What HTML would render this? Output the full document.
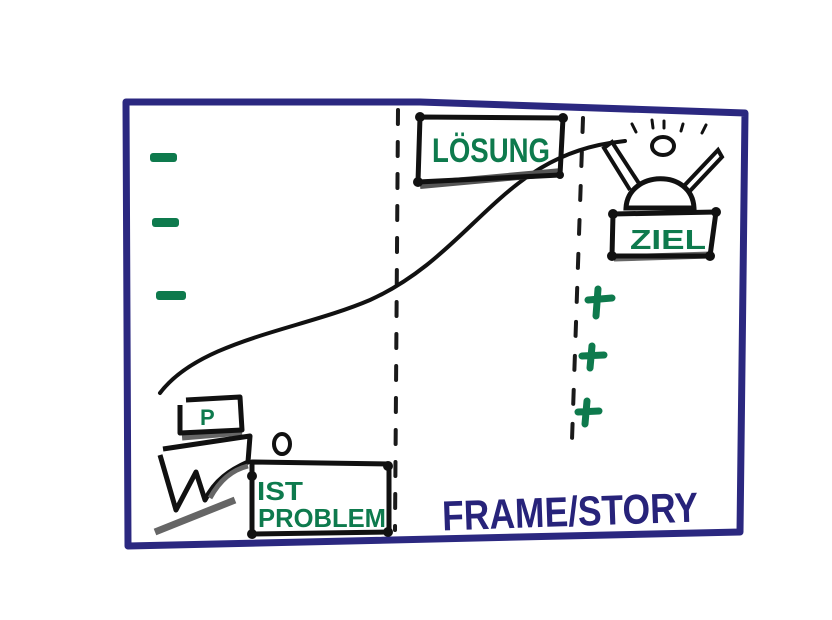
<!DOCTYPE html>
<html><head><meta charset="utf-8"><style>
html,body{margin:0;padding:0;background:#fff;width:832px;height:620px;overflow:hidden}
svg{display:block}
text{font-family:"Liberation Sans",sans-serif;font-weight:bold}
</style></head><body>
<svg width="832" height="620" viewBox="0 0 832 620" xmlns="http://www.w3.org/2000/svg">
<rect width="832" height="620" fill="#fff"/>
<!-- frame -->
<path d="M126 102 L420 102 L745 113 L740 532 L128 546 Z" fill="none" stroke="#2b2880" stroke-width="7" stroke-linejoin="round"/>
<!-- dashed lines -->
<path d="M398 110 L395 530" stroke="#1a1a1a" stroke-width="4" stroke-dasharray="14 18" stroke-linecap="round"/>
<path d="M583 118 L572 440" stroke="#1a1a1a" stroke-width="4" stroke-dasharray="14 20" stroke-linecap="round"/>
<!-- minus -->
<g fill="#0e7a4d">
<rect x="150" y="153" width="27" height="9" rx="3"/>
<rect x="152" y="218" width="27" height="9" rx="3"/>
<rect x="156" y="291" width="30" height="9" rx="3"/>
</g>
<!-- plus -->
<g stroke="#0e7a4d" stroke-width="7" stroke-linecap="round">
<path d="M588 300 L612 298 M598 289 L596 316"/>
<path d="M582 356 L604 355 M592 346 L590 368"/>
<path d="M578 412 L599 411 M587 401 L585 424"/>
</g>
<!-- curve -->
<path d="M160 393 C 200 340, 300 330, 370 300 C 470 255, 500 160, 610 143 L625 141" fill="none" stroke="#111" stroke-width="4" stroke-linecap="round"/>
<!-- LOSUNG box -->
<path d="M420 185 L562 172" stroke="#555" stroke-width="8"/>
<path d="M420 117 L563 118 L560 175 L418 182 Z" fill="none" stroke="#111" stroke-width="5" stroke-linejoin="round"/>
<g fill="#111"><circle cx="420" cy="117" r="5"/><circle cx="563" cy="118" r="5"/><circle cx="418" cy="182" r="5"/><circle cx="560" cy="175" r="4"/></g>
<text x="432" y="162" font-size="34" fill="#0e7a4d" textLength="118" lengthAdjust="spacingAndGlyphs">LÖSUNG</text>
<!-- person -->
<ellipse cx="663" cy="146" rx="11" ry="9" fill="none" stroke="#111" stroke-width="4"/>
<path d="M626 208 C 628 170, 692 168, 694 208 Z" fill="#fff" stroke="#111" stroke-width="5"/>
<path d="M640 185 L612 142 L604 148 L630 190" fill="none" stroke="#111" stroke-width="4"/>
<path d="M682 188 L718 150 L722 157 L689 192" fill="none" stroke="#111" stroke-width="4"/>
<g stroke="#111" stroke-width="3" stroke-linecap="round">
<path d="M632 124 L636 132 M652 120 L653 128 M664 121 L664 128 M683 124 L681 131 M706 125 L702 133"/>
</g>
<!-- ZIEL box -->
<path d="M614 258 L710 255" stroke="#666" stroke-width="7"/>
<path d="M613 214 L716 212 L710 256 L612 256 Z" fill="none" stroke="#111" stroke-width="5" stroke-linejoin="round"/>
<g fill="#111"><circle cx="613" cy="214" r="5"/><circle cx="716" cy="212" r="5"/><circle cx="612" cy="256" r="5"/><circle cx="710" cy="256" r="5"/></g>
<text x="630" y="249" font-size="28" fill="#0e7a4d" textLength="76" lengthAdjust="spacingAndGlyphs">ZIEL</text>
<!-- P box + chair -->
<path d="M182 437 L242 432" stroke="#666" stroke-width="7"/>
<path d="M186 400 L240 397 L242 430 L180 433 L180 405" fill="none" stroke="#111" stroke-width="5" stroke-linejoin="round"/>
<text x="200" y="425" font-size="22" fill="#0e7a4d">P</text>
<path d="M163 449 L250 436 L248 462 C 230 470, 215 480, 205 500 L196 472 L176 510 L160 455" fill="none" stroke="#111" stroke-width="5" stroke-linejoin="round"/>
<path d="M210 498 C 220 480, 232 470, 248 466" fill="none" stroke="#666" stroke-width="5"/>
<path d="M155 532 L235 500" stroke="#666" stroke-width="7"/>
<ellipse cx="282" cy="444" rx="8" ry="10" fill="none" stroke="#111" stroke-width="4"/>
<!-- IST PROBLEM box -->
<path d="M252 462 L389 464 L389 532 L252 534 Z" fill="none" stroke="#111" stroke-width="5" stroke-linejoin="round"/>
<g fill="#111"><circle cx="252" cy="476" r="5"/><circle cx="388" cy="466" r="5"/><circle cx="252" cy="534" r="5"/><circle cx="388" cy="532" r="5"/></g>
<text x="257" y="500" font-size="26" fill="#0e7a4d" textLength="46" lengthAdjust="spacingAndGlyphs">IST</text>
<text x="258" y="527" font-size="26" fill="#0e7a4d" textLength="128" lengthAdjust="spacingAndGlyphs">PROBLEM</text>
<!-- FRAME/STORY -->
<text x="442" y="526" font-size="42" fill="#27237a" textLength="256" lengthAdjust="spacingAndGlyphs" transform="rotate(-2 570 510)">FRAME/STORY</text>
</svg>
</body></html>
